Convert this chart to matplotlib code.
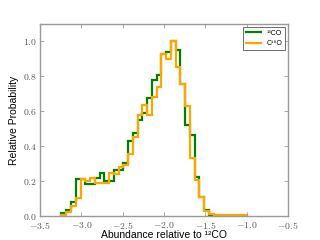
import numpy as np
import matplotlib
matplotlib.use('Agg')
import matplotlib.pyplot as plt
from matplotlib.ticker import FuncFormatter, MultipleLocator

plt.rcParams['font.family'] = ['Liberation Sans', 'DejaVu Sans']
plt.rcParams['mathtext.fontset'] = 'cm'

# bin layout of the histograms
bin_start = -3.24
bin_width = 0.0575
n_bins = 39

# relative probability per bin
co13 = [0.015, 0.035, 0.078, 0.214, 0.214, 0.185, 0.185, 0.22, 0.245, 0.20,
        0.20, 0.262, 0.262, 0.305, 0.43, 0.475, 0.55, 0.59, 0.675, 0.78,
        0.81, 0.93, 0.937, 1.0, 0.95, 0.755, 0.52, 0.465, 0.225, 0.108,
        0.033, 0.007, 0.0, 0.0, 0.0, 0.0, 0.0, 0.0, 0.0]
c18o = [0.005, 0.025, 0.06, 0.105, 0.21, 0.20, 0.215, 0.19, 0.19, 0.19,
        0.245, 0.24, 0.28, 0.295, 0.355, 0.455, 0.577, 0.635, 0.577, 0.68,
        0.74, 0.93, 0.90, 1.0, 0.855, 0.755, 0.63, 0.33, 0.207, 0.108,
        0.029, 0.014, 0.005, 0.005, 0.005, 0.005, 0.005, 0.005, 0.005]

labels = ['¹³CO', 'C¹⁸O']
colors = ['#008000', '#ffa500']

edges = bin_start + bin_width * np.arange(n_bins + 1)

fig = plt.figure(figsize=(3.2, 2.4), dpi=100)
ax = fig.add_subplot(111)
fig.subplots_adjust(left=0.125, right=0.9, bottom=0.1, top=0.9)

for vals, lab, col in zip([co13, c18o], labels, colors):
    ax.stairs(vals, edges, color=col, linewidth=1.6, label=lab)

ax.set_xlim(-3.5, -0.5)
ax.set_ylim(0, 1.1)
ax.xaxis.set_major_locator(MultipleLocator(0.5))
ax.yaxis.set_major_locator(MultipleLocator(0.2))
fmt = FuncFormatter(lambda v, p: r'$%.1f$' % v)
ax.xaxis.set_major_formatter(fmt)
ax.yaxis.set_major_formatter(fmt)

for s in ax.spines.values():
    s.set_color('#999999')
    s.set_linewidth(1.0)
ax.tick_params(direction='in', top=True, right=True, length=3, width=0.6,
               color='#999999', labelsize=7, labelcolor='#555555', pad=2)
ax.tick_params(axis='x', pad=3)

ax.set_xlabel('Abundance relative to ¹²CO', fontsize=7.5, labelpad=-1)
ax.set_ylabel('Relative Probability', fontsize=7.5, labelpad=3)

leg = ax.legend(loc='upper right', fontsize=5, fancybox=False,
                handlelength=2.2, borderaxespad=0.4, framealpha=1)
leg.get_frame().set_edgecolor('#555555')
leg.get_frame().set_linewidth(0.6)

fig.savefig('out.png', dpi=100)
